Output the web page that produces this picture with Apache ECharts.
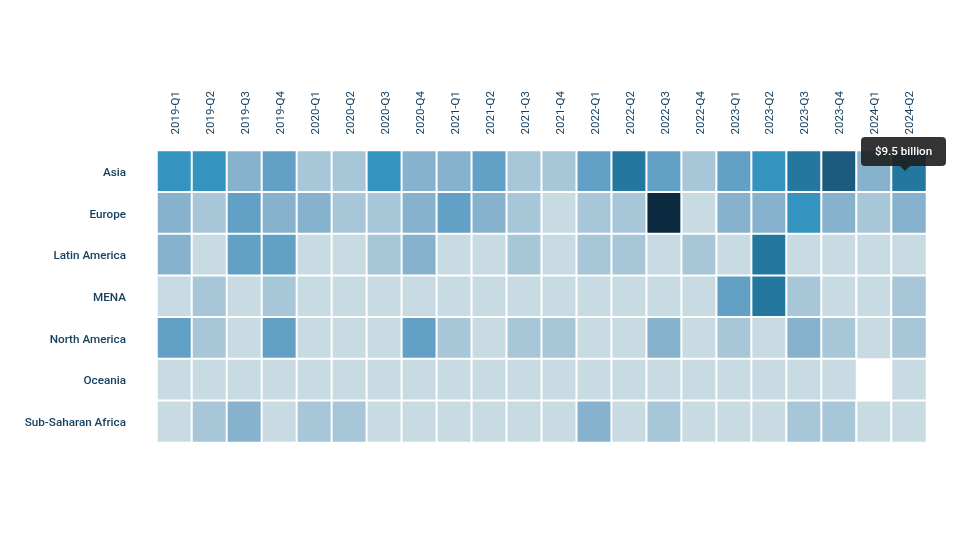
<!DOCTYPE html>
<html><head><meta charset="utf-8">
<style>html,body{margin:0;padding:0;background:#fff}#c{width:960px;height:540px}</style>
<script src="https://cdn.jsdelivr.net/npm/echarts@6/dist/echarts.min.js"></script>
</head><body><div id="c"></div>
<script>
const quarters = ['2019-Q1','2019-Q2','2019-Q3','2019-Q4','2020-Q1','2020-Q2','2020-Q3','2020-Q4','2021-Q1','2021-Q2','2021-Q3','2021-Q4','2022-Q1','2022-Q2','2022-Q3','2022-Q4','2023-Q1','2023-Q2','2023-Q3','2023-Q4','2024-Q1','2024-Q2'];
const regions = ['Asia','Europe','Latin America','MENA','North America','Oceania','Sub-Saharan Africa'];
// estimated funding, $ billion (read from colour bands)
const asia = [7,7,3.5,5,2,2,7,3.5,3.5,5,2,2,5,9.5,5,2,5,7,9.5,12,3.5,9.5];
const europe = [3.5,2,5,3.5,3.5,2,2,3.5,5,3.5,2,0.5,2,2,20,0.5,3.5,3.5,7,3.5,2,3.5];
const latinAmerica = [3.5,0.5,5,5,0.5,0.5,2,3.5,0.5,0.5,2,0.5,2,2,0.5,2,0.5,9.5,0.5,0.5,0.5,0.5];
const mena = [0.5,2,0.5,2,0.5,0.5,0.5,0.5,0.5,0.5,0.5,0.5,0.5,0.5,0.5,0.5,5,9.5,2,0.5,0.5,2];
const northAmerica = [5,2,0.5,5,0.5,0.5,0.5,5,2,0.5,2,2,0.5,0.5,3.5,0.5,2,0.5,3.5,2,0.5,2];
const oceania = [0.5,0.5,0.5,0.5,0.5,0.5,0.5,0.5,0.5,0.5,0.5,0.5,0.5,0.5,0.5,0.5,0.5,0.5,0.5,0.5,null,0.5];
const subSaharanAfrica = [0.5,2,3.5,0.5,2,2,0.5,0.5,0.5,0.5,0.5,0.5,3.5,0.5,2,0.5,0.5,0.5,2,2,0.5,0.5];
const rows = [asia,europe,latinAmerica,mena,northAmerica,oceania,subSaharanAfrica];
const data = [];
rows.forEach((r,y)=>r.forEach((v,x)=>{ if(v!==null) data.push([x,y,v]); }));
const chart = echarts.init(document.getElementById('c'),null,{renderer:'canvas'});
const textColor = '#17405f';
chart.setOption({
  animation:false,
  backgroundColor:'#fff',
  textStyle:{fontFamily:'Roboto'},
  grid:{left:157,right:33.5,top:150.5,bottom:97.5},
  xAxis:{type:'category',position:'top',data:quarters,splitArea:{show:false},axisLine:{show:false},axisTick:{show:false},
    axisLabel:{rotate:-90,interval:0,margin:16,formatter:'{q|{value}}',
      rich:{q:{fontSize:11.5,fontFamily:'Roboto',color:textColor,padding:[3,0,0,0]}}}},
  yAxis:{type:'category',inverse:true,data:regions,axisLine:{show:false},axisTick:{show:false},
    axisLabel:{margin:31,formatter:'{r|{value}}',
      rich:{r:{fontSize:11.7,fontWeight:500,fontFamily:'Roboto',color:textColor,padding:[3,0,0,0]}}}},
  visualMap:{show:false,type:'piecewise',dimension:2,seriesIndex:0,pieces:[
    {max:1,color:'#c9dbe2'},{min:1,max:3,color:'#a7c6d8'},{min:3,max:4,color:'#87b2cd'},
    {min:4,max:6,color:'#62a1c5'},{min:6,max:8,color:'#3593c0'},{min:8,max:11,color:'#24779f'},
    {min:11,max:15,color:'#1c5a80'},{min:15,color:'#0c2a40'}]},
  tooltip:{trigger:'item',alwaysShowContent:true,transitionDuration:0,padding:0,borderWidth:0,backgroundColor:'transparent',
    extraCssText:'box-shadow:none;',
    position:(pt,params,dom)=>{
      const c = chart.convertToPixel({seriesIndex:0},[params.value[0],params.value[1]]);
      return [c[0]-48, c[1]-34];
    },
    formatter:p=>'<div style="position:relative;box-sizing:border-box;width:85px;height:29px;text-align:center;background:rgba(30,30,30,.9);border-radius:4px;color:#fff;font:500 11.6px/29px Roboto">$'+p.value[2]+' billion<div style="position:absolute;left:39px;top:29px;width:0;height:0;border-left:5px solid transparent;border-right:5px solid transparent;border-top:5px solid rgba(30,30,30,.9)"></div></div>'},
  series:[{type:'heatmap',data:data,itemStyle:{borderColor:'#fff',borderWidth:2},emphasis:{disabled:true},label:{show:false}}]
});
const target = data.findIndex(d=>d[0]===21&&d[1]===0);
chart.dispatchAction({type:'showTip',seriesIndex:0,dataIndex:target});
</script></body></html>
